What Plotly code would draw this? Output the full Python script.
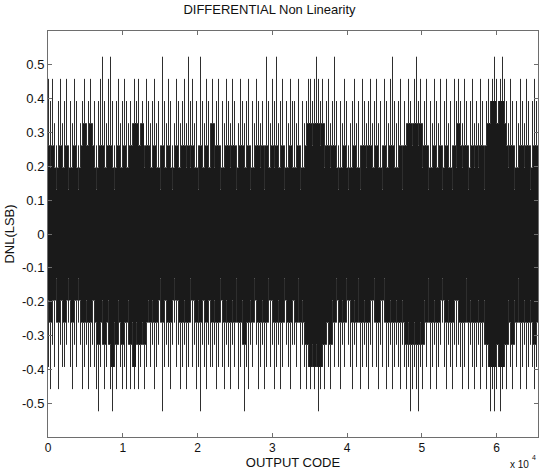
import numpy as np
import plotly.graph_objects as go

# DNL is quantised in steps of ~0.0655 LSB; values below are in those steps,
# one entry per ~267 output codes (extreme value and the densely hit level)
step = 0.0655
n_codes = 65536

hi = [7,6,7,5,4,6,7,5,6,7, 4,6,5,7,6,4,5,6,7,5, 6,7,5,6,4,6,7,8,6,5, 7,8,6,4,6,7,5,6,7,6, 5,
      6,5,7,6,7,5,6,4,7,6, 5,6,7,5,6,4,8,6,5,7, 6,4,5,7,6,5,6,7,5,8, 6,7,5,6,4,8,6,5,7,6, 5,
      7,5,6,7,4,6,5,7,6,5, 7,6,4,5,7,6,5,6,7,4, 6,5,7,6,5,6,4,8,6,5, 7,6,8,5,6,7,4,6,5,7, 6,
      6,5,7,4,6,5,6,7,7,6, 7,8,7,6,7,5,6,7,5,6, 8,6,4,6,5,7,6,4,5,6, 7,5,6,4,7,6,5,6,7,5, 6,
      7,5,6,4,7,6,5,7,8,6, 5,6,7,4,6,5,7,6,5,7, 8,6,7,5,6,7,4,6,5,7, 6,5,7,4,6,7,5,6,4,7, 6,
      7,6,5,7,6,4,6,7,5,6, 5,7,6,4,6,7,6,7,8,7, 6,7,8,7,6,5,7,6,4,6, 5,7,6,5,7,6,4,6,7,6]
dense_hi = [4,3,4,3,2,3,4,3,3,4, 2,3,3,4,3,2,3,4,5,4, 4,5,4,3,2,3,4,4,3,3, 4,4,3,2,3,4,3,3,4,3, 3,
            4,4,5,5,4,4,5,3,4,4, 3,3,4,3,3,2,4,3,3,4, 3,2,3,4,3,3,4,4,3,4, 3,4,3,3,2,4,3,3,4,3, 3,
            5,3,4,4,2,3,3,4,4,3, 4,4,2,3,4,4,3,3,4,2, 3,3,4,4,3,4,2,4,3,3, 4,3,4,3,3,4,2,3,3,4, 3,
            3,3,4,2,3,3,4,5,5,4, 5,5,5,4,5,3,4,4,3,4, 4,3,2,3,3,4,3,2,3,3, 4,3,3,2,4,4,3,4,4,3, 3,
            4,3,3,2,4,3,3,4,4,3, 3,3,4,2,4,4,5,5,4,5, 5,4,5,3,4,4,2,3,3,4, 3,3,4,2,3,4,3,3,2,4, 3,
            5,4,3,4,4,2,3,4,3,4, 3,4,4,2,4,5,5,6,6,5, 5,6,6,5,4,3,4,4,2,3, 3,4,4,3,4,4,2,3,4,4]
lo = [-6,-7,-5,-6,-4,-7,-5,-6,-6,-5, -4,-6,-7,-5,-6,-4,-5,-7,-6,-5, -7,-6,-5,-6,-7,-8,-6,-5,-7,-6, -5,-7,-8,-6,-7,-5,-6,-7,-6,-7, -5,
      -7,-6,-7,-5,-7,-6,-5,-7,-6,-4, -6,-5,-7,-6,-5,-4,-8,-6,-5,-6, -7,-5,-4,-6,-5,-7,-6,-5,-7,-6, -4,-6,-5,-7,-6,-8,-5,-6,-7,-5, -6,
      -6,-5,-7,-6,-4,-6,-7,-5,-6,-7, -5,-6,-4,-7,-6,-5,-8,-6,-7,-5, -6,-4,-5,-7,-6,-5,-7,-6,-4,-6, -5,-7,-6,-5,-7,-6,-4,-5,-6,-7, -5,
      -5,-6,-4,-7,-5,-6,-7,-6,-7,-6, -7,-6,-8,-7,-6,-7,-5,-6,-7,-5, -6,-4,-6,-7,-5,-6,-4,-5,-6,-7, -5,-6,-4,-7,-6,-5,-6,-7,-5,-6, -4,
      -6,-7,-5,-6,-4,-7,-6,-5,-7,-6, -5,-6,-7,-5,-6,-7,-6,-8,-7,-6, -7,-8,-6,-7,-5,-6,-4,-7,-6,-5, -7,-6,-5,-4,-6,-7,-5,-6,-7,-5, -6,
      -5,-6,-7,-6,-4,-7,-5,-6,-7,-6, -5,-7,-6,-5,-7,-6,-8,-7,-8,-7, -6,-8,-7,-6,-7,-5,-6,-7,-5,-6, -4,-7,-6,-5,-7,-6,-5,-6,-7,-6]
dense_lo = [-3,-4,-3,-3,-2,-4,-3,-3,-4,-3, -2,-3,-4,-3,-3,-2,-3,-4,-4,-3, -4,-4,-3,-3,-4,-5,-4,-3,-5,-4, -3,-5,-6,-4,-5,-3,-4,-5,-4,-4, -3,
            -5,-4,-6,-4,-5,-5,-4,-5,-4,-3, -4,-3,-4,-4,-3,-2,-4,-3,-3,-4, -4,-3,-2,-3,-3,-4,-4,-3,-4,-4, -2,-3,-3,-4,-3,-4,-3,-3,-4,-3, -3,
            -4,-3,-4,-4,-2,-3,-4,-3,-4,-4, -3,-4,-2,-4,-4,-3,-5,-4,-4,-3, -4,-2,-3,-4,-4,-3,-4,-4,-2,-3, -3,-4,-4,-3,-4,-4,-2,-3,-4,-4, -3,
            -3,-4,-2,-4,-3,-4,-5,-5,-6,-5, -6,-5,-6,-6,-5,-5,-4,-4,-5,-3, -4,-2,-3,-4,-3,-4,-2,-3,-3,-4, -3,-4,-2,-4,-4,-3,-4,-4,-3,-3, -2,
            -4,-4,-3,-3,-2,-4,-4,-3,-4,-4, -3,-4,-4,-3,-4,-5,-4,-5,-5,-4, -5,-5,-4,-5,-3,-4,-2,-4,-4,-3, -4,-4,-3,-2,-3,-4,-3,-4,-4,-3, -3,
            -3,-4,-4,-4,-2,-4,-3,-4,-4,-4, -3,-4,-4,-3,-5,-5,-6,-6,-6,-5, -5,-6,-6,-5,-5,-3,-4,-5,-3,-4, -2,-4,-4,-3,-4,-4,-3,-4,-5,-4]

x_ticks = [0, 10000, 20000, 30000, 40000, 50000, 60000]
x_ticktext = ["0", "1", "2", "3", "4", "5", "6"]
y_ticks = [-0.5, -0.4, -0.3, -0.2, -0.1, 0, 0.1, 0.2, 0.3, 0.4, 0.5]
y_ticktext = ["-0.5", "-0.4", "-0.3", "-0.2", "-0.1", "0", "0.1", "0.2", "0.3", "0.4", "0.5"]

n = len(hi)
# quarter-bin offset keeps the 1px strokes on whole pixels
codes = (np.arange(n) + 0.25) * n_codes / n


def strokes(a, b):
    xs, ys = [], []
    for c, y0, y1 in zip(codes, a, b):
        xs += [c, c, None]
        ys += [y0 * step, y1 * step, None]
    return xs, ys


fig = go.Figure()

sx, sy = strokes(dense_hi, hi)
sx2, sy2 = strokes(lo, dense_lo)
fig.add_trace(go.Scatter(x=sx + sx2, y=sy + sy2, mode="lines",
                         line=dict(color="#2e2e2e", width=1), hoverinfo="skip"))
dx, dy = strokes(dense_lo, dense_hi)
fig.add_trace(go.Scatter(x=dx, y=dy, mode="lines",
                         line=dict(color="#1a1a1a", width=3), hoverinfo="skip"))

axis_style = dict(showline=True, linecolor="#6e6e6e", linewidth=1, mirror="ticks",
                  ticks="inside", ticklen=4, tickcolor="#6e6e6e", showgrid=False,
                  zeroline=False)

fig.update_xaxes(range=[0, n_codes], tickvals=x_ticks, ticktext=x_ticktext,
                 tickfont=dict(size=12, color="#111"),
                 title=dict(text="OUTPUT CODE", font=dict(size=13, color="#111"), standoff=4),
                 **axis_style)
fig.update_yaxes(range=[-0.6, 0.6], tickvals=y_ticks, ticktext=y_ticktext,
                 tickfont=dict(size=13, color="#111"),
                 title=dict(text="DNL(LSB)", font=dict(size=13, color="#111"), standoff=4),
                 **axis_style)

fig.update_layout(
    width=539, height=470,
    margin=dict(l=48, r=1, t=31, b=33, autoexpand=False),
    paper_bgcolor="white", plot_bgcolor="white",
    showlegend=False,
    font=dict(family="Liberation Sans, Arial, sans-serif", size=13, color="#111"),
    title=dict(text="DIFFERENTIAL Non Linearity", x=0.5, xanchor="center",
               y=0.99, yanchor="top", pad=dict(t=0), font=dict(size=13)),
    annotations=[
        dict(text="x 10", xref="paper", yref="paper", x=0.985, y=0,
             xanchor="right", yanchor="top", yshift=-20, showarrow=False, font=dict(size=10)),
        dict(text="4", xref="paper", yref="paper", x=0.983, y=0,
             xanchor="left", yanchor="top", yshift=-15, showarrow=False, font=dict(size=7)),
    ],
)

# drop the default 8px page margin so the chart sits at the window's corner
fig.write_html("out.html", config={"displayModeBar": False},
               post_script="document.body.style.margin='0';")
